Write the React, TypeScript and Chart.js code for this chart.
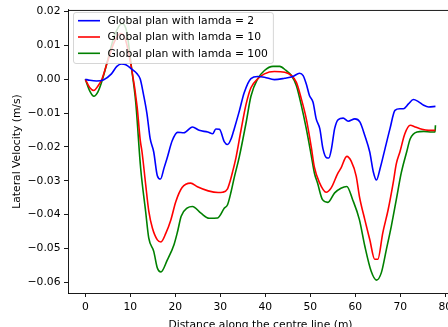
import React, { useEffect, useRef } from "react";
import { Chart, registerables } from "chart.js";

Chart.register(...registerables);

// ---- data ----
const seriesLabels = [
  "Global plan with lamda = 2",
  "Global plan with lamda = 10",
  "Global plan with lamda = 100",
];
const seriesColors = ["#0000ff", "#ff0000", "#008000"];

const blueDist = [0, 1, 2.5, 4, 5.8, 7, 8, 9, 10.3, 11.5, 12.2, 12.9, 13.7, 14.4, 15.2, 16, 16.7, 17.5, 18.2, 19.3, 20.5, 21.9, 23.8, 25.3, 27.2, 28.3, 29, 29.8, 30.9, 31.6, 32.4, 33.1, 34.2, 35.3, 36.8, 38.3, 39.8, 42, 44.3, 46.1, 47.6, 48.4, 49.1, 49.8, 50.6, 51.3, 52.1, 52.8, 53.6, 54.1, 54.7, 55.4, 56.2, 57.3, 58.4, 59.9, 61, 62.1, 63.2, 64, 64.7, 65.5, 66.6, 67.7, 68.8, 69.9, 70.7, 71.8, 72.9, 74, 75.2, 76.3, 77.8];
const blueVel = [0, -0.0003, -0.0005, -0.0002, 0.0016, 0.0038, 0.0045, 0.0043, 0.003, 0.0016, 0.0001, -0.0043, -0.0102, -0.0175, -0.0215, -0.0285, -0.0295, -0.0262, -0.0232, -0.0182, -0.0157, -0.0158, -0.0141, -0.0151, -0.0156, -0.0161, -0.0147, -0.0148, -0.0185, -0.0193, -0.0176, -0.0146, -0.0095, -0.004, 0.0002, 0.0008, 0.0006, -0.0001, 0.0003, 0.0008, 0.0018, 0.0011, -0.0014, -0.0048, -0.0068, -0.0117, -0.0146, -0.0205, -0.0232, -0.0233, -0.0205, -0.0146, -0.0119, -0.0115, -0.0124, -0.0117, -0.0126, -0.0166, -0.0215, -0.0274, -0.0298, -0.0264, -0.0205, -0.0146, -0.0092, -0.0087, -0.0087, -0.0073, -0.006, -0.0066, -0.0077, -0.0082, -0.008];

const redDist = [0, 1, 1.9, 2.8, 3.7, 5, 6.5, 7.8, 8.8, 10.3, 11.5, 12.2, 12.6, 13.4, 14.1, 14.9, 16, 16.8, 17.9, 19, 20.1, 21.5, 23.4, 24.9, 27.3, 29.5, 30.5, 31.6, 32.2, 32.7, 33.5, 34.6, 35.7, 36.8, 38.3, 39.8, 42, 44.3, 45.8, 46.9, 48, 49.1, 50.2, 50.9, 52, 53.5, 54.6, 56.1, 56.8, 58.1, 59.1, 60.2, 60.9, 62.1, 63.2, 64.3, 65, 66.1, 67.3, 68.4, 69.1, 69.9, 71, 72.2, 73.3, 74.8, 76.3, 77.8];
const redVel = [0, -0.0025, -0.0033, -0.002, 0.0001, 0.0055, 0.0112, 0.0135, 0.0122, 0.003, -0.008, -0.018, -0.0215, -0.031, -0.039, -0.044, -0.0475, -0.0481, -0.0455, -0.0416, -0.0362, -0.032, -0.0307, -0.0318, -0.033, -0.0335, -0.0334, -0.0324, -0.03, -0.0275, -0.023, -0.015, -0.0075, -0.0025, 0.0001, 0.0016, 0.0023, 0.0021, 0.0011, -0.0009, -0.0058, -0.0117, -0.02, -0.026, -0.0305, -0.0334, -0.0322, -0.0278, -0.0263, -0.0228, -0.0243, -0.0287, -0.0346, -0.0415, -0.0474, -0.0532, -0.0532, -0.0454, -0.0385, -0.0307, -0.025, -0.0215, -0.0161, -0.0136, -0.0141, -0.0148, -0.0151, -0.0151];

const greenDist = [0, 1, 1.9, 2.8, 3.7, 5, 6.5, 8.2, 9.2, 10.3, 11.2, 12.3, 13.4, 14.1, 15.2, 16, 16.8, 18.2, 19.7, 20.5, 21.3, 22.7, 23.8, 25.7, 27.5, 29.4, 30.9, 31.6, 32.4, 33.1, 34.2, 35.7, 36.8, 38.3, 39.8, 41.7, 43.2, 44.6, 45.8, 46.9, 48, 49.1, 50.2, 50.9, 51.6, 52.7, 53.9, 55.4, 56.8, 58.1, 59.4, 60.9, 62.1, 63.5, 64.7, 65.8, 66.9, 68, 69.1, 70.2, 71.4, 72.2, 73.7, 75.2, 77, 77.7, 77.8];
const greenVel = [0, -0.0035, -0.005, -0.0037, -0.0005, 0.0058, 0.013, 0.0165, 0.014, 0.003, -0.0068, -0.0264, -0.0391, -0.047, -0.0509, -0.0558, -0.057, -0.0535, -0.0489, -0.045, -0.0405, -0.038, -0.0376, -0.0396, -0.0411, -0.041, -0.0381, -0.0371, -0.0332, -0.029, -0.023, -0.013, -0.005, 0.0001, 0.0026, 0.0038, 0.0038, 0.0026, 0.0011, -0.0019, -0.0077, -0.0146, -0.0225, -0.0277, -0.0307, -0.0356, -0.0364, -0.0336, -0.0322, -0.0317, -0.0356, -0.0415, -0.0493, -0.0567, -0.0594, -0.0571, -0.0503, -0.0434, -0.0356, -0.0277, -0.0215, -0.0176, -0.0156, -0.0154, -0.0156, -0.0156, -0.0136];

const xTicks = [0, 10, 20, 30, 40, 50, 60, 70, 80];
const yTicks = [-0.06, -0.05, -0.04, -0.03, -0.02, -0.01, 0, 0.01, 0.02];

// ---- layout ----
const W = 460;
const H = 340;
const FONT = "DejaVu Sans";
const FS = 10.75;

const fmtY = (v: number) =>
  v === 0 || Math.abs(v) < 1e-9 ? "0.00" : (v < 0 ? "\u2212" : "") + Math.abs(v).toFixed(2);

const framePlugin = {
  id: "mplFrame",
  afterDraw(chart: any) {
    const { ctx, chartArea } = chart;
    const { left, right, top, bottom } = chartArea;
    ctx.save();
    // top and right spines
    ctx.strokeStyle = "#000";
    ctx.lineWidth = 0.9;
    ctx.beginPath();
    ctx.moveTo(left, Math.round(top) + 0.45);
    ctx.lineTo(right, Math.round(top) + 0.45);
    ctx.moveTo(Math.round(right) - 0.45, top);
    ctx.lineTo(Math.round(right) - 0.45, bottom);
    ctx.stroke();

    // legend
    ctx.font = `${FS}px "${FONT}"`;
    let maxW = 0;
    seriesLabels.forEach((t) => (maxW = Math.max(maxW, ctx.measureText(t).width)));
    const bx = 73.5;
    const by = 12.5;
    const textX = 107.5;
    const bw = textX + maxW + 5.5 - bx;
    const bh = 51;
    ctx.beginPath();
    (ctx as any).roundRect(bx, by, bw, bh, 2.5);
    ctx.fillStyle = "rgba(255,255,255,0.8)";
    ctx.fill();
    ctx.strokeStyle = "rgba(204,204,204,0.8)";
    ctx.lineWidth = 1;
    ctx.stroke();
    const rows = [20.7, 37.0, 53.3];
    seriesLabels.forEach((t, i) => {
      ctx.strokeStyle = seriesColors[i];
      ctx.lineWidth = 1.6;
      ctx.beginPath();
      ctx.moveTo(78, rows[i]);
      ctx.lineTo(100, rows[i]);
      ctx.stroke();
      ctx.fillStyle = "#000";
      ctx.textAlign = "left";
      ctx.textBaseline = "middle";
      ctx.fillText(t, textX, rows[i] + 0.5);
    });
    ctx.restore();
  },
};

const toPoints = (xs: number[], ys: number[]) => xs.map((x, i) => ({ x, y: ys[i] }));

export default function App() {
  const ref = useRef<HTMLCanvasElement>(null);
  useEffect(() => {
    document.body.style.margin = "0";
    const font = { family: FONT, size: FS };
    const chart = new Chart(ref.current as HTMLCanvasElement, {
      type: "line",
      data: {
        datasets: [
          { label: seriesLabels[0], data: toPoints(blueDist, blueVel), borderColor: seriesColors[0] },
          { label: seriesLabels[1], data: toPoints(redDist, redVel), borderColor: seriesColors[1] },
          { label: seriesLabels[2], data: toPoints(greenDist, greenVel), borderColor: seriesColors[2] },
        ].map((d) => ({
          ...d,
          borderWidth: 1.6,
          pointRadius: 0,
          fill: false,
          cubicInterpolationMode: "monotone" as const,
        })),
      },
      options: {
        responsive: false,
        animation: false,
        events: [],
        layout: { padding: { left: 0, top: 7.3, right: W - 453, bottom: 0 } },
        plugins: { legend: { display: false }, tooltip: { enabled: false } },
        scales: {
          x: {
            type: "linear",
            min: -3.85,
            max: 81.7,
            afterBuildTicks: (s: any) => {
              s.ticks = xTicks.map((v) => ({ value: v }));
            },
            afterFit: (s: any) => {
              s.height = H - 293;
            },
            ticks: {
              font,
              color: "#000",
              padding: 4,
              maxRotation: 0,
              autoSkip: false,
              callback: (v: any) => String(v),
            },
            grid: {
              display: true,
              drawOnChartArea: false,
              drawTicks: true,
              tickLength: 4,
              color: "#000",
              lineWidth: 0.9,
            },
            border: { display: true, color: "#000", width: 0.9 },
            title: {
              display: true,
              text: "Distance along the centre line (m)",
              font,
              color: "#000",
              padding: { top: 0, bottom: 8 },
            },
          },
          y: {
            type: "linear",
            min: -0.0632,
            max: 0.0205,
            afterBuildTicks: (s: any) => {
              s.ticks = yTicks.map((v) => ({ value: v }));
            },
            afterFit: (s: any) => {
              s.width = 68;
            },
            ticks: {
              font,
              color: "#000",
              padding: 3.5,
              autoSkip: false,
              callback: (v: any) => fmtY(Number(v)),
            },
            grid: {
              display: true,
              drawOnChartArea: false,
              drawTicks: true,
              tickLength: 4,
              color: "#000",
              lineWidth: 0.9,
            },
            border: { display: true, color: "#000", width: 0.9 },
            title: {
              display: true,
              text: "Lateral Velocity (m/s)",
              font,
              color: "#000",
              padding: { top: 10.5, bottom: 0 },
            },
          },
        },
      },
      plugins: [framePlugin],
    } as any);
    return () => chart.destroy();
  }, []);

  return (
    <div
      style={{
        position: "fixed",
        left: 0,
        top: 0,
        width: 448,
        height: 327,
        overflow: "hidden",
        background: "#fff",
      }}
    >
      <canvas ref={ref} width={W} height={H} style={{ display: "block", width: W, height: H }} />
    </div>
  );
}
